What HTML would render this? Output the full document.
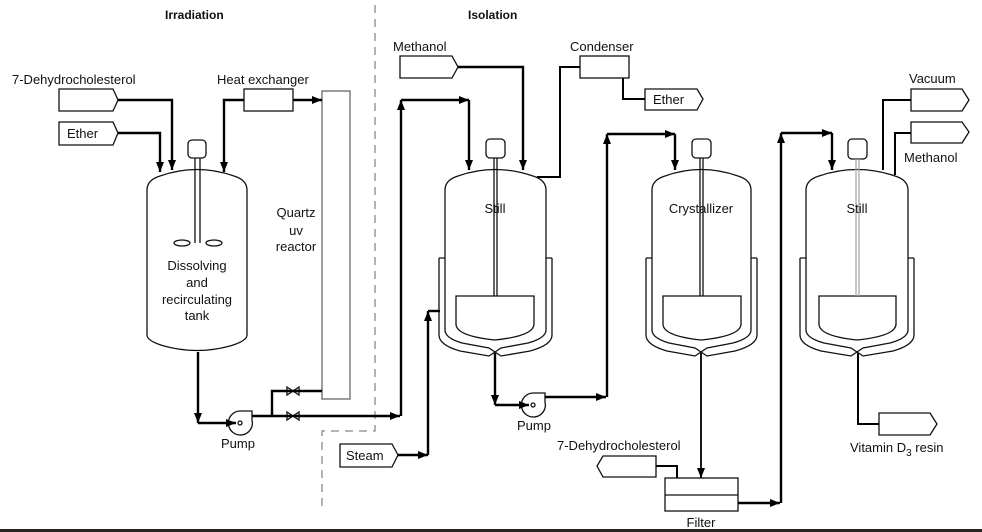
<!DOCTYPE html>
<html><head><meta charset="utf-8"><style>
html,body{margin:0;padding:0;background:#fff;}
svg{display:block;}
text{font-family:"Liberation Sans",Arial,sans-serif;font-size:13px;fill:#111;}
</style></head><body>
<svg width="982" height="532" viewBox="0 0 982 532" xmlns="http://www.w3.org/2000/svg">
<defs>
<marker id="a" viewBox="0 0 10 8" refX="10" refY="4" markerWidth="10" markerHeight="8" markerUnits="userSpaceOnUse" orient="auto">
<path d="M0,0 L10,4 L0,8 Z" fill="#000"/></marker>
</defs>
<rect width="982" height="532" fill="#fff"/>
<text x="165" y="19" font-weight="bold" style="font-size:12px">Irradiation</text>
<text x="468" y="19" font-weight="bold" style="font-size:12px">Isolation</text>
<!-- dashed divider -->
<path d="M375,5 V431 H322 V510" fill="none" stroke="#888" stroke-width="1.3" stroke-dasharray="8,6"/>

<g fill="none" stroke="#111" stroke-width="1.3">
<!-- feed boxes -->
<path d="M59,89 H113 L118,100 L113,111 H59 Z"/>
<path d="M59,122 H113 L118,133 L113,145 H59 Z"/>
<rect x="244" y="89" width="49" height="22"/>
<rect x="322" y="91" width="28" height="308" stroke="#666"/>
<path d="M400,56 H452 L458,67 L452,78 H400 Z"/>
<rect x="580" y="56" width="49" height="22"/>
<path d="M645,89 H697 L703,99 L697,110 H645 Z"/>
<path d="M911,89 H962 L969,100 L962,111 H911 Z"/>
<path d="M911,122 H962 L969,132 L962,143 H911 Z"/>
<path d="M879,413 H930 L937,424 L930,435 H879 Z"/>
<path d="M656,456 H603 L597,466 L603,477 H656 Z"/>
<path d="M340,444 H392 L398,455 L392,467 H340 Z"/>
<rect x="665" y="478" width="73" height="33"/>
<path d="M665,495 H738"/>

<!-- left tank -->
<path d="M147,335 V190 Q147,180 160,176 Q197,163 234,176 Q247,180 247,190 V335 Q247,341 230,346 Q197,355 164,346 Q147,341 147,335 Z"/>
<rect x="188" y="140" width="18" height="18" rx="4"/>
<path d="M195,158 V243 M200,158 V243"/>
<ellipse cx="182" cy="243" rx="8" ry="3"/>
<ellipse cx="214" cy="243" rx="8" ry="3"/>

<!-- stills -->
<g id="s1">
<path d="M445,258 V190 Q445,180 458,176 Q495,163 533,176 Q546,180 546,190 V330 Q546,338 528,343 L501,348 L495,352 L489,348 L462,343 Q445,338 445,330 V258"/>
<path d="M439,258 H445 M546,258 H552 M439,258 V335 Q439,345 460,351 L489,356 L495,352 L501,356 L530,351 Q552,345 552,335 V258"/>
<path d="M456,296 H534 V324 Q534,336 495,340 Q456,336 456,324 Z"/>
<rect x="486" y="139" width="19" height="19" rx="4"/>
<path d="M494,158 V296 M497,158 V296"/>
</g>
<path d="M652,258 V190 Q652,180 665,176 Q701,163 738,176 Q751,180 751,190 V330 Q751,338 733,343 L707,348 L701,352 L695,348 L669,343 Q652,338 652,330 V258"/>
<path d="M646,258 H652 M751,258 H757 M646,258 V335 Q646,345 667,351 L695,356 L701,352 L707,356 L735,351 Q757,345 757,335 V258"/>
<path d="M663,296 H741 V324 Q741,336 701,340 Q663,336 663,324 Z"/>
<rect x="692" y="139" width="19" height="19" rx="4"/>
<path d="M700,158 V296 M703,158 V296"/>

<path d="M806,258 V190 Q806,180 819,176 Q857,163 895,176 Q908,180 908,190 V330 Q908,338 890,343 L863,348 L857,352 L851,348 L824,343 Q806,338 806,330 V258"/>
<path d="M800,258 H806 M908,258 H914 M800,258 V335 Q800,345 821,351 L851,356 L857,352 L863,356 L893,351 Q914,345 914,335 V258"/>
<path d="M819,296 H896 V324 Q896,336 857,340 Q819,336 819,324 Z"/>
<rect x="848" y="139" width="19" height="20" rx="4"/>
<path d="M856,159 V296 M859,159 V296" stroke="#aaa"/>

<!-- pumps -->
<path d="M252,415 V420 A12,12 0 1 1 240,411 H252 Z"/>
<circle cx="240" cy="423" r="2"/>
<path d="M545,397 V402 A12,12 0 1 1 533,393 H545 Z"/>
<circle cx="533" cy="405" r="2"/>
<!-- valves -->
<path d="M287,387 L299,395 V387 L287,395 Z M287,412 L299,420 V412 L287,420 Z"/>
</g>

<!-- thick lines -->
<g fill="none" stroke="#000" stroke-width="2.4">
<path d="M118,100 H172 V170" marker-end="url(#a)"/>
<path d="M118,133 H160 V172" marker-end="url(#a)"/>
<path d="M244,100 H224 V172" marker-end="url(#a)"/>
<path d="M293,100 H322" marker-end="url(#a)"/>
<path d="M198,352 V423" marker-end="url(#a)"/>
<path d="M198,423 H236" marker-end="url(#a)"/>
<path d="M252,416 H400" marker-end="url(#a)"/>
<path d="M272,416 V391 H322"/>
<path d="M401,416 V100" marker-end="url(#a)"/>
<path d="M401,100 H469" marker-end="url(#a)"/>
<path d="M469,100 V170" marker-end="url(#a)"/>
<path d="M458,67 H523 V170" marker-end="url(#a)"/>
<path d="M580,67 H560 V177 H537" stroke-width="2"/>
<path d="M623,78 V99 H645" stroke-width="2"/>
<path d="M398,455 H428" marker-end="url(#a)"/>
<path d="M428,455 V311" marker-end="url(#a)"/>
<path d="M428,311 H440"/>
<path d="M495,353 V405" marker-end="url(#a)"/>
<path d="M495,405 H529" marker-end="url(#a)"/>
<path d="M545,397 H606" marker-end="url(#a)"/>
<path d="M607,397 V134" marker-end="url(#a)"/>
<path d="M607,134 H675" marker-end="url(#a)"/>
<path d="M675,134 V170" marker-end="url(#a)"/>
<path d="M701,353 V478" marker-end="url(#a)" stroke-width="1.8"/>
<path d="M656,466 H677 V478" stroke-width="2"/>
<path d="M738,503 H780" marker-end="url(#a)"/>
<path d="M781,503 V133" marker-end="url(#a)"/>
<path d="M781,133 H832" marker-end="url(#a)"/>
<path d="M832,133 V170" marker-end="url(#a)"/>
<path d="M883,170 V100 H911" stroke-width="2"/>
<path d="M895,175 V133 H911" stroke-width="2"/>
<path d="M858,353 V424 H879" stroke-width="2"/>
</g>

<!-- labels -->
<text x="12" y="84">7-Dehydrocholesterol</text>
<text x="67" y="138">Ether</text>
<text x="217" y="84">Heat exchanger</text>
<text x="296" y="217" text-anchor="middle">Quartz</text>
<text x="296" y="235" text-anchor="middle">uv</text>
<text x="296" y="251" text-anchor="middle">reactor</text>
<text x="197" y="270" text-anchor="middle">Dissolving</text>
<text x="197" y="287" text-anchor="middle">and</text>
<text x="197" y="304" text-anchor="middle">recirculating</text>
<text x="197" y="320" text-anchor="middle">tank</text>
<text x="238" y="448" text-anchor="middle">Pump</text>
<text x="346" y="460">Steam</text>
<text x="393" y="51">Methanol</text>
<text x="570" y="51">Condenser</text>
<text x="653" y="104">Ether</text>
<text x="495" y="213" text-anchor="middle">Still</text>
<text x="701" y="213" text-anchor="middle">Crystallizer</text>
<text x="857" y="213" text-anchor="middle">Still</text>
<text x="909" y="83">Vacuum</text>
<text x="904" y="162">Methanol</text>
<text x="534" y="430" text-anchor="middle">Pump</text>
<text x="557" y="450">7-Dehydrocholesterol</text>
<text x="701" y="527" text-anchor="middle">Filter</text>
<text x="850" y="452">Vitamin D<tspan dy="4" style="font-size:10px">3</tspan><tspan dy="-4"> resin</tspan></text>
<rect x="0" y="529" width="982" height="3" fill="#2a2520"/>
</svg>
</body></html>
